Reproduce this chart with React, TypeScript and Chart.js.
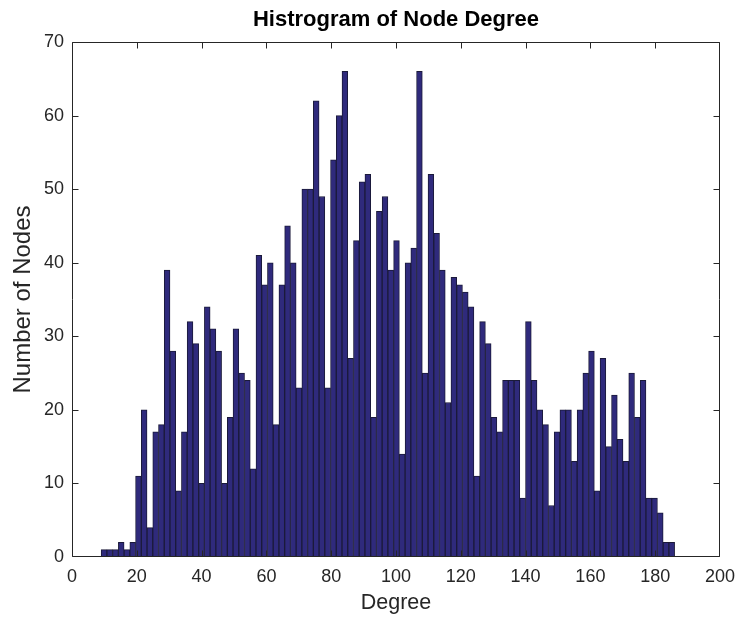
import React, { useEffect, useRef } from "react";
import { Chart, registerables } from "chart.js";

Chart.register(...registerables);

const TITLE = "Histrogram of Node Degree";
const X_LABEL = "Degree";
const Y_LABEL = "Number of Nodes";

// histogram range (first bin left edge, last bin right edge)
const DEGREE_MIN = 9;
const DEGREE_MAX = 186;

// counts per bin (100 bins)
const NODE_COUNTS = [
  1, 1, 1, 2, 1, 2, 11, 20, 4, 17,
  18, 39, 28, 9, 17, 32, 29, 10, 34, 31,
  28, 10, 19, 31, 25, 24, 12, 41, 37, 40,
  18, 37, 45, 40, 23, 50, 50, 62, 49, 23,
  54, 60, 66, 27, 43, 51, 52, 19, 47, 49,
  39, 43, 14, 40, 42, 66, 25, 52, 44, 39,
  21, 38, 37, 36, 34, 11, 32, 29, 19, 17,
  24, 24, 24, 8, 32, 24, 20, 18, 7, 17,
  20, 20, 13, 20, 25, 28, 9, 27, 15, 22,
  16, 13, 25, 19, 24, 8, 8, 6, 2, 2,
];

const X_TICKS = [0, 20, 40, 60, 80, 100, 120, 140, 160, 180, 200];
const Y_TICKS = [0, 10, 20, 30, 40, 50, 60, 70];

const BIN_WIDTH = (DEGREE_MAX - DEGREE_MIN) / NODE_COUNTS.length;
const BIN_CENTERS = NODE_COUNTS.map((_, i) => DEGREE_MIN + (i + 0.5) * BIN_WIDTH);

const FONT = "'Liberation Sans', Arial, Helvetica, sans-serif";
const TEXT_COLOR = "#262626";
const AXIS_COLOR = "#262626";
const BAR_FILL = "#2f2a7c";
const BAR_EDGE = "#1b1a3a";

const clamp = (v: number, a: number, b: number) => Math.min(Math.max(v, a), b);

const framePlugin = {
  id: "matlabFrame",
  afterDatasetsDraw(chart: any) {
    const { ctx, chartArea, scales } = chart;
    const { left, right, top, bottom } = chartArea;
    const L = Math.round(left) + 0.5;
    const R = Math.round(right) - 0.5;
    const T = Math.round(top) + 0.5;
    const B = Math.round(bottom) - 0.5;
    ctx.save();
    ctx.strokeStyle = AXIS_COLOR;
    ctx.lineWidth = 1;
    ctx.beginPath();
    ctx.rect(L, T, R - L, B - T);
    ctx.stroke();
    const tl = 6;
    ctx.beginPath();
    X_TICKS.forEach((v) => {
      const px = clamp(Math.round(scales.x.getPixelForValue(v)) + 0.5, L, R);
      ctx.moveTo(px, B);
      ctx.lineTo(px, B - tl);
      ctx.moveTo(px, T);
      ctx.lineTo(px, T + tl);
    });
    Y_TICKS.forEach((v) => {
      const py = clamp(Math.round(scales.y.getPixelForValue(v)) + 0.5, T, B);
      ctx.moveTo(L, py);
      ctx.lineTo(L + tl, py);
      ctx.moveTo(R, py);
      ctx.lineTo(R - tl, py);
    });
    ctx.stroke();
    // title
    ctx.fillStyle = "#000";
    ctx.font = `bold 22px ${FONT}`;
    ctx.textAlign = "center";
    ctx.textBaseline = "middle";
    ctx.fillText(TITLE, (left + right) / 2, 20);
    ctx.restore();
  },
};

export default function App() {
  const ref = useRef<HTMLCanvasElement | null>(null);
  useEffect(() => {
    document.body.style.margin = "0";
    const canvas = ref.current;
    if (!canvas) return;
    const chart = new Chart(canvas, {
      type: "bar",
      data: {
        datasets: [
          {
            data: BIN_CENTERS.map((x, i) => ({ x, y: NODE_COUNTS[i] })),
            backgroundColor: BAR_FILL,
            borderColor: BAR_EDGE,
            borderWidth: 1,
            borderSkipped: false,
            barPercentage: 1,
            categoryPercentage: 1,
          },
        ],
      },
      options: {
        responsive: false,
        animation: false,
        layout: { padding: { top: 42, right: 22, left: 0, bottom: 0 } },
        plugins: {
          legend: { display: false },
          tooltip: { enabled: false },
          title: { display: false },
        },
        scales: {
          x: {
            type: "linear",
            min: 0,
            max: 200,
            offset: false,
            afterBuildTicks: (s: any) => {
              s.ticks = X_TICKS.map((value) => ({ value }));
            },
            afterFit: (s: any) => {
              s.height = 63;
            },
            grid: { display: false, drawTicks: false, offset: false },
            border: { display: false },
            ticks: {
              color: TEXT_COLOR,
              font: { family: FONT, size: 18 },
              padding: 9,
              maxRotation: 0,
              autoSkip: false,
            },
            title: {
              display: true,
              text: X_LABEL,
              color: TEXT_COLOR,
              font: { family: FONT, size: 21.5 },
              padding: { top: 0, bottom: 4 },
            },
          },
          y: {
            min: 0,
            max: 70,
            afterBuildTicks: (s: any) => {
              s.ticks = Y_TICKS.map((value) => ({ value }));
            },
            afterFit: (s: any) => {
              s.width = 72;
            },
            grid: { display: false, drawTicks: false },
            border: { display: false },
            ticks: {
              color: TEXT_COLOR,
              font: { family: FONT, size: 18 },
              padding: 8,
            },
            title: {
              display: true,
              text: Y_LABEL,
              color: TEXT_COLOR,
              font: { family: FONT, size: 24 },
              padding: { top: 9, bottom: 0 },
            },
          },
        },
      },
      plugins: [framePlugin],
    });
    return () => chart.destroy();
  }, []);
  return (
    <canvas
      ref={ref}
      width={744}
      height={620}
      style={{ display: "block", width: 744, height: 620 }}
    />
  );
}
